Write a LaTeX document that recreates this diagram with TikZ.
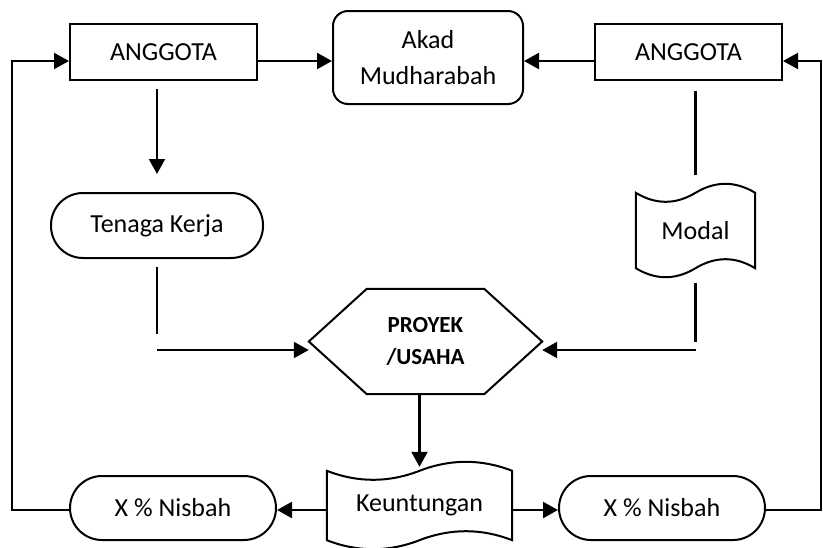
\documentclass[tikz,border=0pt]{standalone}
\usepackage{fontspec}
\setmainfont{Carlito}
\usetikzlibrary{arrows.meta,calc}

\tikzset{
  shapeline/.style={draw=black, line width=2pt},
  conn/.style={draw=black, line width=2.2pt},
  arr/.style={conn, -{Triangle[length=15pt,width=16pt]}},
  boxtext/.style={inner sep=0pt, align=center, font=\fontsize{26}{36}\selectfont},
  plainbox/.style={boxtext, shapeline, rectangle, minimum width=187pt, minimum height=56pt},
  roundbox/.style={boxtext, shapeline, rectangle, rounded corners=15pt},
  pill/.style={boxtext, shapeline, rectangle, rounded corners=32pt, minimum width=206pt, minimum height=64pt},
  tapebox/.style={boxtext, rectangle},
  hexbox/.style={inner sep=0pt, align=center, font=\bfseries\fontsize{23}{32}\selectfont,
                 minimum width=233pt, minimum height=105pt}
}

% punched-tape outline around a node: #1 node, #2 horizontal and #3 vertical control offsets
\newcommand\tapeoutline[3]{%
  \draw[shapeline] (#1.north west) .. controls +(#2,#3) and +(-#2,#3) .. (#1.north)
    .. controls +(#2,-#3) and +(-#2,-#3) .. (#1.north east)
    -- (#1.south east) .. controls +(-#2,-#3) and +(#2,-#3) .. (#1.south)
    .. controls +(-#2,#3) and +(#2,#3) .. (#1.south west) -- cycle;}

\begin{document}
\begin{tikzpicture}[x=1pt, y=-1pt]
  \useasboundingbox (0,0) rectangle (823,547);

  % levels of the horizontal connectors and the two return paths
  \coordinate (yA) at (0,61);
  \coordinate (yB) at (0,510);
  \coordinate (yC) at (0,350);
  \coordinate (fbL) at (12,300);
  \coordinate (fbR) at (821,300);

  % boxes
  \node[plainbox] (ang1) at (163.5,52) {ANGGOTA};
  \node[roundbox, minimum width=190pt, minimum height=93pt] (akad) at (428,57.5) {Akad\\Mudharabah};
  \node[plainbox] (ang2) at (688.5,52) {ANGGOTA};
  \node[pill, minimum width=212pt, minimum height=65pt] (tenaga) at (157,225.5) {Tenaga Kerja};

  \node[tapebox, minimum width=119pt, minimum height=75pt] (modal) at (695.5,230.5) {Modal};
  \tapeoutline{modal}{20}{12}

  \node[hexbox] (proyek) at (425.5,341.5) {PROYEK\\/USAHA};
  \draw[shapeline] (proyek.west) -- ($(proyek.north west)+(58,0)$) -- ($(proyek.north east)+(-58,0)$)
    -- (proyek.east) -- ($(proyek.south east)+(-58,0)$) -- ($(proyek.south west)+(58,0)$) -- cycle;

  \node[tapebox, minimum width=185pt, minimum height=69pt] (keun) at (419.5,505.5) {Keuntungan};
  \tapeoutline{keun}{31}{12}

  \node[pill] (nis1) at (173,508) {X \% Nisbah};
  \node[pill] (nis2) at (662,508) {X \% Nisbah};

  % top row
  \draw[arr] (ang1.east |- yA) -- (akad.west |- yA);
  \draw[arr] (ang2.west |- yA) -- (akad.east |- yA);

  % left branch: labour into the project
  \draw[arr] ([yshift=-8pt]ang1.south -| tenaga.north) -- ([yshift=18pt]tenaga.north);
  \draw[conn] ([yshift=-8pt]tenaga.south) -- ++(0,67);
  \draw[arr] (tenaga.south |- yC) -- (proyek.west |- yC);

  % right branch: capital into the project
  \draw[conn] ([yshift=-10pt]ang2.south -| modal.north) -- ([yshift=18pt]modal.north);
  \draw[conn] ([yshift=-15pt]modal.south) -- ++(0,59);
  \draw[arr] (modal.south |- yC) -- (proyek.east |- yC);

  % profit and its split
  \draw[arr] (proyek.south -| keun.north) -- ([yshift=4pt]keun.north);
  \draw[arr] (keun.west |- yB) -- (nis1.east |- yB);
  \draw[arr] (keun.east |- yB) -- (nis2.west |- yB);

  % shares returned to the members
  \draw[arr] (nis1.west |- yB) -| (fbL |- yA) -- (ang1.west |- yA);
  \draw[arr] (nis2.east |- yB) -| (fbR |- yA) -- (ang2.east |- yA);
\end{tikzpicture}
\end{document}
